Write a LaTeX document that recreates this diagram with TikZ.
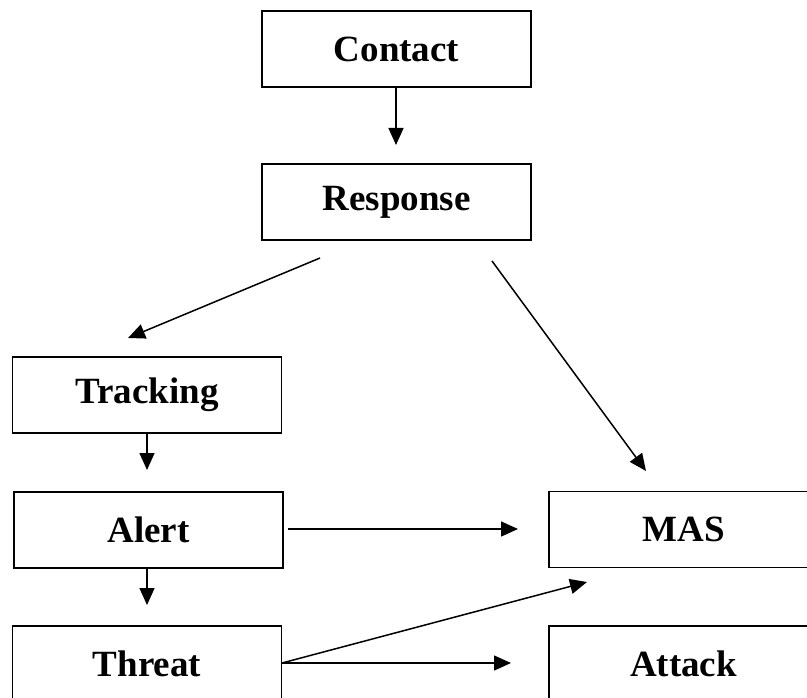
\documentclass[tikz,border=0pt]{standalone}
\usepackage{fontspec}
\setmainfont{Liberation Serif}
\usetikzlibrary{arrows.meta}
\tikzset{
  boxnode/.style={draw=black, line width=1.8pt, minimum width=269pt, minimum height=76pt, inner sep=0pt,
    font=\fontsize{37}{44}\selectfont\bfseries},
  arr/.style={line width=1.5pt, -{Triangle[length=17pt,width=15pt]}}
}
\begin{document}
\begin{tikzpicture}[x=1pt,y=-1pt]
\useasboundingbox (0,0) rectangle (807,698);
\clip (0,0) rectangle (807,698);
\fill[white] (0,0) rectangle (807,698);
% boxes
\node[boxnode] (contact) at (396.5,49) {Contact};
\node[boxnode] (response) at (396.5,202) {Response};
\node[boxnode] (tracking) at (147,395) {Tracking};
\node[boxnode] (alert) at (148.5,530) {Alert};
\node[boxnode] (threat) at (147,664) {Threat};
\node[boxnode] (mas) at (683.5,529.5) {MAS};
\node[boxnode] (attack) at (683.5,664) {Attack};
% connector ends
\coordinate (c1) at (396,145);
\coordinate (r1) at (320,258);
\coordinate (t1) at (128,338);
\coordinate (r2) at (492,261);
\coordinate (m1) at (646,471);
\coordinate (t2) at (147,470);
\coordinate (a1) at (147,605);
\coordinate (a2) at (288,529);
\coordinate (m2) at (518,529);
\coordinate (th) at (282,663);
\coordinate (m3) at (587,582);
\coordinate (k1) at (511,663);
% connectors
\draw[arr] (contact.south -| c1) -- (c1);
\draw[arr] (r1) -- (t1);
\draw[arr] (r2) -- (m1);
\draw[arr] (tracking.south) -- (t2);
\draw[arr] (alert.south -| a1) -- (a1);
\draw[arr] (a2) -- (m2);
\draw[arr] (th) -- (m3);
\draw[arr] (th) -- (k1);
\end{tikzpicture}
\end{document}
